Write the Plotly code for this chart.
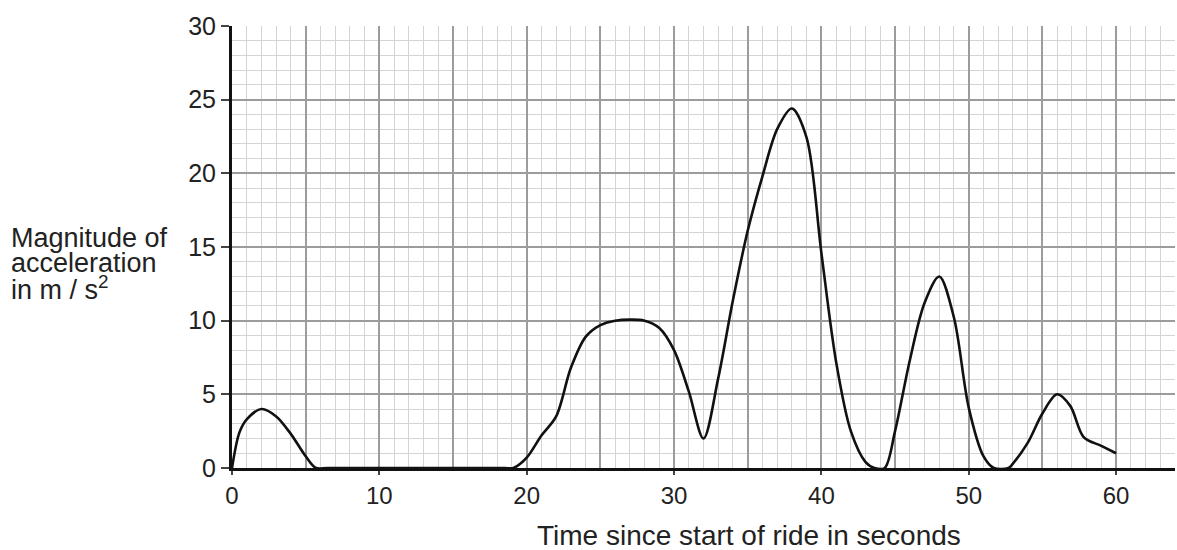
import plotly.graph_objects as go

time_s = [0, 0.5, 1, 2, 3, 4, 5, 5.7, 6.5, 18.5, 19.1, 20, 21, 22, 23, 24,
          25, 26, 28, 29, 30, 31, 32, 33, 34, 35, 36, 37,
          38, 39, 40, 41, 42, 43, 43.6, 44.3, 45, 46, 47, 48, 49,
          50, 51, 51.7, 52.7, 53, 54, 55, 56, 56.9, 57.8, 59, 60]
accel = [0, 2.4, 3.3, 4, 3.5, 2.3, 0.8, 0, 0, 0, 0, 0.7, 2.2, 3.5, 6.8, 8.9,
         9.7, 10, 10, 9.5, 8.0, 5.2, 2, 6.1, 11.4, 16.1, 19.8, 23.0,
         24.4, 22.4, 14.6, 7.2, 2.5, 0.4, 0, 0, 2.5, 7.3, 11.2, 13, 10.2,
         4.1, 0.8, 0, 0, 0.3, 1.7, 3.7, 5, 4.2, 2.1, 1.5, 1.0]

x_ticks = [0, 10, 20, 30, 40, 50, 60]
y_ticks = [0, 5, 10, 15, 20, 25, 30]
x_title = "Time since start of ride in seconds"
y_title_lines = ["Magnitude of", "acceleration", "in m / s<sup>2</sup>"]

FONT = "Liberation Sans, Arial, sans-serif"
TXT = "#222222"
MAJOR = "#9c9c9c"
MINOR = "#d4d4d4"

fig = go.Figure()
line_style = dict(color="#111111", width=2.6, shape="spline", smoothing=0.9)
# visible curve on the main x axis
fig.add_trace(go.Scatter(x=time_s, y=accel, mode="lines", xaxis="x", yaxis="y",
                         line=line_style, hoverinfo="skip", showlegend=False))
# same data, fully transparent, so the overlay axis (5-unit grid) is drawn
fig.add_trace(go.Scatter(x=time_s, y=accel, mode="lines", xaxis="x2", yaxis="y",
                         line=dict(color="rgba(0,0,0,0)", width=0),
                         hoverinfo="skip", showlegend=False))

fig.update_layout(
    width=1177, height=550,
    margin=dict(l=232, r=2, t=26, b=82),
    paper_bgcolor="white", plot_bgcolor="white",
    font=dict(family=FONT, color=TXT, size=24),
    xaxis=dict(
        range=[0, 64], tickvals=x_ticks, ticktext=[str(v) for v in x_ticks],
        ticks="outside", ticklen=4, tickwidth=1.5, tickcolor="#444444",
        showgrid=False, zeroline=False,
        showline=True, linecolor="#111111", linewidth=3,
        minor=dict(dtick=1, tick0=0, showgrid=True, gridcolor=MINOR, gridwidth=1),
        tickfont=dict(size=24, color=TXT), fixedrange=True,
    ),
    xaxis2=dict(
        overlaying="x", range=[0, 64], dtick=5, tick0=0,
        showgrid=True, gridcolor=MAJOR, gridwidth=2,
        showticklabels=False, ticks="", zeroline=False, showline=False,
        fixedrange=True,
    ),
    yaxis=dict(
        range=[0, 30], tickvals=y_ticks, ticktext=[str(v) for v in y_ticks],
        ticks="outside", ticklen=8, tickwidth=1.5, tickcolor="#444444",
        showgrid=True, gridcolor=MAJOR, gridwidth=2, zeroline=False,
        showline=True, linecolor="#111111", linewidth=3,
        minor=dict(dtick=1, tick0=0, showgrid=True, gridcolor=MINOR, gridwidth=1),
        tickfont=dict(size=25, color=TXT), fixedrange=True,
    ),
)

# plot area: left 232, right 1175, top 26, bottom 468 (page px)
ys = [(468 - 238) / 442, (468 - 263) / 442, (468 - 288) / 442]
for txt, yy in zip(y_title_lines, ys):
    fig.add_annotation(text=txt, xref="paper", yref="paper", x=(9 - 232) / 943, y=yy,
                       xanchor="left", yanchor="middle", showarrow=False,
                       font=dict(size=27, family=FONT, color=TXT))

fig.add_annotation(text=x_title, xref="paper", yref="paper", x=(749 - 232) / 943,
                   y=(468 - 535) / 442,
                   xanchor="center", yanchor="middle", showarrow=False,
                   font=dict(size=28, family=FONT, color=TXT))

fig.write_html("out.html", config={"displayModeBar": False},
               post_script="document.body.style.margin='0';document.body.style.overflow='hidden';")
